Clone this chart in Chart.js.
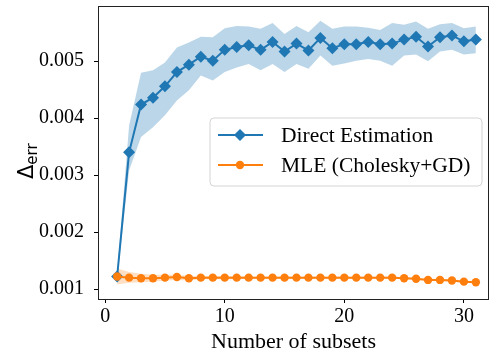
<!DOCTYPE html>
<html>
<head>
<meta charset="utf-8">
<script src="https://cdn.jsdelivr.net/npm/chart.js@4.4.0/dist/chart.umd.min.js"></script>
<style>
  html, body { margin: 0; padding: 0; background: #fff; overflow: hidden; }
  #wrap { width: 495px; height: 357px; position: relative; }
</style>
</head>
<body>
<div id="wrap"><canvas id="c"></canvas></div>
<script>
// 数据
var subsets = [1,2,3,4,5,6,7,8,9,10,11,12,13,14,15,16,17,18,19,20,21,22,23,24,25,26,27,28,29,30,31];

var directMean  = [0.00122,0.00340,0.00424,0.00436,0.00456,0.00481,0.00494,0.00508,0.00501,0.00520,0.00525,0.00528,0.00520,0.00534,0.00517,0.00531,0.00519,0.00541,0.00523,0.00530,0.00530,0.00534,0.00530,0.00531,0.00538,0.00543,0.00526,0.00542,0.00545,0.00535,0.00538];
var directUpper = [0.00127,0.00387,0.00480,0.00484,0.00498,0.00524,0.00533,0.00543,0.00542,0.00558,0.00562,0.00561,0.00557,0.00567,0.00548,0.00562,0.00551,0.00571,0.00557,0.00561,0.00561,0.00559,0.00555,0.00567,0.00564,0.00570,0.00557,0.00565,0.00567,0.00558,0.00561];
var directLower = [0.00117,0.00308,0.00367,0.00384,0.00405,0.00431,0.00449,0.00475,0.00466,0.00481,0.00489,0.00495,0.00484,0.00495,0.00481,0.00495,0.00487,0.00510,0.00492,0.00496,0.00501,0.00504,0.00501,0.00492,0.00510,0.00512,0.00500,0.00517,0.00520,0.00512,0.00514];

var mleMean  = [0.00122,0.00120,0.00119,0.00119,0.00120,0.00121,0.00119,0.00120,0.00120,0.00120,0.00120,0.00120,0.00120,0.00120,0.00120,0.00120,0.00120,0.00120,0.00120,0.00120,0.00120,0.00120,0.00120,0.00120,0.00119,0.00118,0.00116,0.00116,0.00115,0.00113,0.00112];
var mleUpper = [0.00136,0.00130,0.00127,0.00125,0.00125,0.00125,0.00123,0.00123,0.00123,0.00123,0.00123,0.00122,0.00122,0.00122,0.00122,0.00122,0.00122,0.00122,0.00122,0.00122,0.00122,0.00122,0.00122,0.00122,0.00121,0.00120,0.00118,0.00118,0.00117,0.00115,0.00114];
var mleLower = [0.00108,0.00111,0.00112,0.00113,0.00115,0.00116,0.00115,0.00117,0.00117,0.00117,0.00117,0.00118,0.00118,0.00118,0.00118,0.00118,0.00118,0.00118,0.00118,0.00118,0.00118,0.00118,0.00118,0.00118,0.00117,0.00116,0.00114,0.00114,0.00113,0.00111,0.00110];

var xTicks = [0, 10, 20, 30];
var yTicks = [0.001, 0.002, 0.003, 0.004, 0.005];
var seriesNames = ['Direct Estimation', 'MLE (Cholesky+GD)'];

var BLUE = '#1f77b4', ORANGE = '#ff7f0e';
var SERIF = '"Liberation Serif", "Times New Roman", serif';

function pts(arr) {
  return subsets.map(function(x, i) { return { x: x, y: arr[i] }; });
}

/** 边框 + y轴标题 + 图例 (仿 matplotlib) */
var decorPlugin = {
  id: 'decor',
  afterDraw: function(chart) {
    var ctx = chart.ctx, a = chart.chartArea;
    ctx.save();
    // frame
    ctx.strokeStyle = '#222';
    ctx.lineWidth = 1;
    ctx.strokeRect(Math.round(a.left) + 0.5, Math.round(a.top) + 0.5,
      Math.round(a.right - a.left) - 1, Math.round(a.bottom - a.top));

    // y title: Δ_err
    ctx.translate(33, 163);
    ctx.rotate(-Math.PI / 2);
    ctx.fillStyle = '#000';
    ctx.textBaseline = 'alphabetic';
    ctx.textAlign = 'left';
    ctx.font = '21px "DejaVu Sans", sans-serif';
    var w = ctx.measureText('\u0394').width;
    ctx.fillText('\u0394', -16, 0);
    ctx.font = '15px "DejaVu Sans", sans-serif';
    ctx.fillText('err', -16 + w, 4);
    ctx.restore();

    // legend
    ctx.save();
    var bx = 210, by = 118, bw = 272, bh = 68, r = 4;
    ctx.beginPath();
    ctx.moveTo(bx + r, by);
    ctx.arcTo(bx + bw, by, bx + bw, by + bh, r);
    ctx.arcTo(bx + bw, by + bh, bx, by + bh, r);
    ctx.arcTo(bx, by + bh, bx, by, r);
    ctx.arcTo(bx, by, bx + bw, by, r);
    ctx.closePath();
    ctx.fillStyle = 'rgba(255,255,255,0.8)';
    ctx.fill();
    ctx.strokeStyle = '#d4d4d4';
    ctx.lineWidth = 1;
    ctx.stroke();

    var rows = [
      { y: 135, color: BLUE, marker: 'diamond', text: seriesNames[0] },
      { y: 165, color: ORANGE, marker: 'circle', text: seriesNames[1] }
    ];
    rows.forEach(function(row) {
      ctx.strokeStyle = row.color;
      ctx.lineWidth = 2;
      ctx.beginPath();
      ctx.moveTo(218, row.y);
      ctx.lineTo(263, row.y);
      ctx.stroke();
      ctx.fillStyle = row.color;
      ctx.beginPath();
      if (row.marker === 'diamond') {
        ctx.moveTo(240, row.y - 6);
        ctx.lineTo(246, row.y);
        ctx.lineTo(240, row.y + 6);
        ctx.lineTo(234, row.y);
        ctx.closePath();
      } else {
        ctx.arc(240, row.y, 4.2, 0, Math.PI * 2);
      }
      ctx.fill();
      ctx.fillStyle = '#000';
      ctx.font = '21.5px ' + SERIF;
      ctx.textBaseline = 'middle';
      ctx.textAlign = 'left';
      ctx.fillText(row.text, 281, row.y + 1);
    });
    ctx.restore();
  }
};

new Chart(document.getElementById('c'), {
  type: 'line',
  data: {
    datasets: [
      { label: 'direct_hi', data: pts(directUpper), fill: '+1', backgroundColor: 'rgba(31,119,180,0.3)',
        borderWidth: 0, pointRadius: 0, order: 4 },
      { label: 'direct_lo', data: pts(directLower), fill: false, borderWidth: 0, pointRadius: 0, order: 4 },
      { label: 'mle_hi', data: pts(mleUpper), fill: '+1', backgroundColor: 'rgba(255,127,14,0.25)',
        borderWidth: 0, pointRadius: 0, order: 3 },
      { label: 'mle_lo', data: pts(mleLower), fill: false, borderWidth: 0, pointRadius: 0, order: 3 },
      { label: seriesNames[0], data: pts(directMean), borderColor: BLUE, backgroundColor: BLUE,
        borderWidth: 2, pointStyle: 'rectRot', pointRadius: 6, pointBorderWidth: 0, fill: false, order: 2 },
      { label: seriesNames[1], data: pts(mleMean), borderColor: ORANGE, backgroundColor: ORANGE,
        borderWidth: 2, pointStyle: 'circle', pointRadius: 4.2, pointBorderWidth: 0, fill: false, order: 1 }
    ]
  },
  plugins: [decorPlugin],
  options: {
    responsive: true,
    maintainAspectRatio: false,
    animation: false,
    layout: { padding: { top: 6, right: 0, left: 0, bottom: 0 } },
    plugins: { legend: { display: false }, tooltip: { enabled: false } },
    elements: { line: { tension: 0 } },
    scales: {
      x: {
        type: 'linear', min: -0.6, max: 32.1,
        afterBuildTicks: function(s) { s.ticks = xTicks.map(function(v) { return { value: v }; }); },
        afterFit: function(s) { s.height = 58; s.paddingLeft = 0; s.paddingRight = 0; },
        grid: { drawOnChartArea: false, drawTicks: true, tickLength: 4, tickColor: '#000', tickWidth: 1 },
        border: { display: false },
        ticks: { color: '#000', padding: 2, maxRotation: 0, font: { family: SERIF, size: 20 } },
        title: { display: true, text: 'Number of subsets', color: '#000', padding: { top: 0, bottom: 2 },
                 font: { family: SERIF, size: 22 } }
      },
      y: {
        type: 'linear', min: 0.000825, max: 0.00597,
        afterBuildTicks: function(s) { s.ticks = yTicks.map(function(v) { return { value: v }; }); },
        afterFit: function(s) { s.width = 98; s.paddingTop = 0; s.paddingBottom = 0; },
        grid: { drawOnChartArea: false, drawTicks: true, tickLength: 4, tickColor: '#000', tickWidth: 1 },
        border: { display: false },
        ticks: { color: '#000', padding: 10, font: { family: SERIF, size: 20 },
                 callback: function(v) { return v.toFixed(3); } }
      }
    }
  }
});
</script>
</body>
</html>
